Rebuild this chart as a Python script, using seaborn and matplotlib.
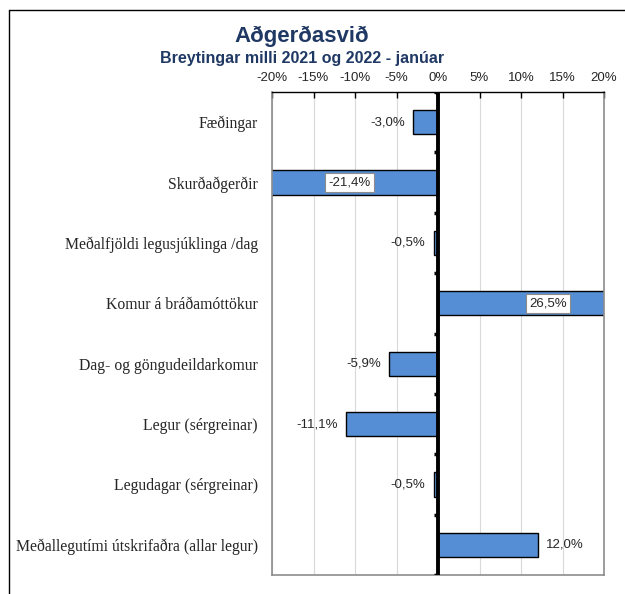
import matplotlib
matplotlib.use("Agg")
import matplotlib.pyplot as plt
from matplotlib.lines import Line2D
import seaborn as sns
import pandas as pd

categories = [
    "Fæðingar",
    "Skurðaðgerðir",
    "Meðalfjöldi legusjúklinga /dag",
    "Komur á bráðamóttökur",
    "Dag- og göngudeildarkomur",
    "Legur (sérgreinar)",
    "Legudagar (sérgreinar)",
    "Meðallegutími útskrifaðra (allar legur)",
]
changes = [-3.0, -21.4, -0.5, 26.5, -5.9, -11.1, -0.5, 12.0]
ticks = [-20, -15, -10, -5, 0, 5, 10, 15, 20]

sns.set_theme(style="white")
plt.rcParams["font.family"] = ["Liberation Sans", "DejaVu Sans"]

df = pd.DataFrame({"cat": categories, "val": changes})

fig = plt.figure(figsize=(6.25, 5.94), dpi=100)
ax = fig.add_axes([272 / 625, 1 - 575 / 594, 332 / 625, 483 / 594])

sns.barplot(data=df, x="val", y="cat", orient="h", color="#558ED5",
            edgecolor="black", linewidth=1, width=0.4, ax=ax, saturation=1)

ax.set_xlim(ticks[0], ticks[-1])
ax.set_ylim(len(categories) - 0.5, -0.5)
ax.set_xticks(ticks)
ax.set_xticklabels([f"{t}%" for t in ticks], fontsize=9.5)
ax.xaxis.tick_top()
ax.tick_params(axis="x", which="both", top=True, bottom=False, direction="in",
               length=4, width=1, color="black", pad=6)
ax.set_xlabel("")
ax.set_ylabel("")
ax.set_yticks(range(len(categories)))
ax.set_yticklabels(categories, fontsize=11.3, family="Liberation Serif")
ax.tick_params(axis="y", length=0, pad=10)
ax.grid(axis="x", color="#D9D9D9", linewidth=0.8)
ax.set_axisbelow(True)
for side in ["left", "right", "bottom"]:
    ax.spines[side].set_color("#8C8C8C")
    ax.spines[side].set_linewidth(1.2)
ax.spines["top"].set_color("black")
ax.spines["top"].set_linewidth(1)

# zero line with small category ticks
ax.axvline(0, color="black", linewidth=2.8, zorder=5)
ax.hlines([i + 0.5 for i in range(-1, len(categories))], -0.5, 0,
          color="black", linewidth=2.5, zorder=5)

# value labels
for i, v in enumerate(changes):
    txt = f"{v:.1f}%".replace(".", ",")
    if abs(v) > ticks[-1]:
        ax.text(v / 2, i, txt, ha="center", va="center", fontsize=9.5, zorder=6,
                bbox=dict(boxstyle="square,pad=0.25", fc="white", ec="#8C8C8C", lw=0.8))
    elif v < 0:
        ax.annotate(txt, (v, i), xytext=(-6, 0), textcoords="offset points",
                    ha="right", va="center", fontsize=9.5)
    else:
        ax.annotate(txt, (v, i), xytext=(6, 0), textcoords="offset points",
                    ha="left", va="center", fontsize=9.5)

fig.text(302 / 625, 1 - 36 / 594, "Aðgerðasvið", ha="center", va="center",
         fontsize=16, fontweight="bold", color="#1F3864")
fig.text(302 / 625, 1 - 58 / 594, "Breytingar milli 2021 og 2022 - janúar",
         ha="center", va="center", fontsize=11.5, fontweight="bold", color="#1F3864")

# outer chart border (left and top only, rest is cut off)
fig.add_artist(Line2D([9 / 625, 9 / 625], [0, 1 - 10 / 594], color="black", lw=1))
fig.add_artist(Line2D([9 / 625, 1], [1 - 10 / 594, 1 - 10 / 594], color="black", lw=1))

fig.savefig("out.png", dpi=100)
